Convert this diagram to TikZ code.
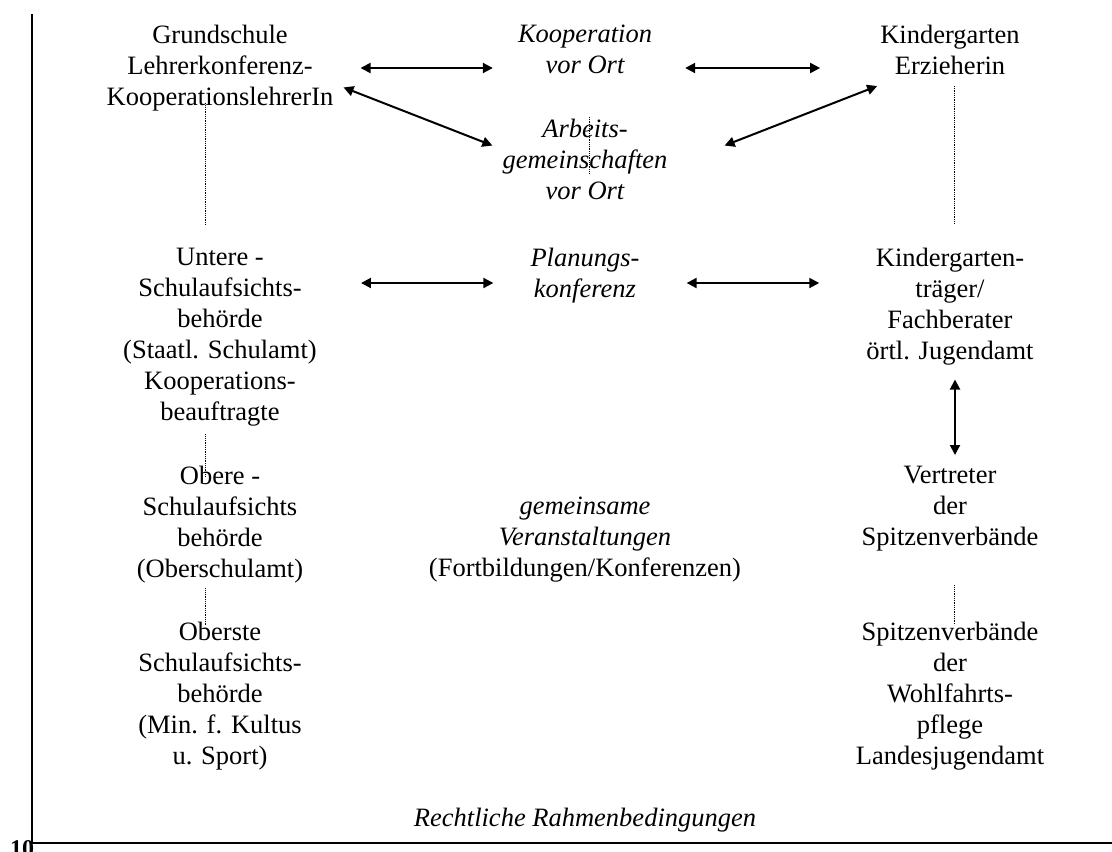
\documentclass[tikz,border=0pt]{standalone}
\usepackage{fontspec}
\setmainfont{Liberation Serif}
\usetikzlibrary{arrows.meta}

\tikzset{
  txt/.style={align=center, inner sep=0pt, anchor=north, font=\fontsize{26.5}{31}\selectfont, execute at begin node={\rule{0pt}{22pt}}},
  itxt/.style={txt, font=\fontsize{26.5}{31}\selectfont\itshape},
  link/.style={{Triangle[length=10pt,width=10pt]}-{Triangle[length=10pt,width=10pt]}, line width=2pt},
  dotline/.style={densely dotted, line width=0.8pt},
  frame/.style={line width=2pt}
}

\begin{document}
\begin{tikzpicture}[x=1pt,y=-1pt]
\useasboundingbox (0,0) rectangle (1112,852);

\draw[frame] (32,14) -- (32,843) -- (1112,843);
\node[anchor=base west, font=\fontsize{24}{28}\selectfont\bfseries, inner sep=0pt] (page) at (10,856) {10};

\node[txt] (gs) at (220,25) {Grundschule\\Lehrerkonferenz-\\KooperationslehrerIn};
\node[itxt] (koop) at (585,25) {Kooperation\\vor Ort};
\node[txt] (kg) at (950,25) {Kindergarten\\Erzieherin};
\node[itxt] (ag) at (585,119) {Arbeits-\\gemeinschaften\\vor Ort};

\node[txt] (ua) at (220,248) {Untere -\\Schulaufsichts-\\behörde\\(Staatl. Schulamt)\\Kooperations-\\beauftragte};
\node[itxt] (pk) at (585,248) {Planungs-\\konferenz};
\node[txt] (kt) at (950,248) {Kindergarten-\\träger/\\Fachberater\\örtl. Jugendamt};

\node[txt] (ob) at (220,466) {Obere -\\Schulaufsichts\\behörde\\(Oberschulamt)};
\node[txt] (gv) at (585,497) {\textit{gemeinsame}\\\textit{Veranstaltungen}\\(Fortbildungen/Konferenzen)};
\node[txt] (vt) at (950,466) {Vertreter\\der\\Spitzenverbände};

\node[txt] (os) at (220,622) {Oberste\\Schulaufsichts-\\behörde\\(Min. f. Kultus\\u. Sport)};
\node[txt] (sw) at (950,622) {Spitzenverbände\\der\\Wohlfahrts-\\pflege\\Landesjugendamt};

\node[itxt] (rr) at (585,804) {Rechtliche Rahmenbedingungen};

\draw[link] ([xshift=27pt,yshift=-43pt]gs.north east) -- ([xshift=-25pt,yshift=-43pt]koop.north west);
\draw[link] ([xshift=33pt,yshift=-43pt]koop.north east) -- ([xshift=-60pt,yshift=-43pt]kg.north west);
\draw[link] ([xshift=10pt,yshift=24pt]gs.south east) -- ([xshift=-10pt,yshift=14pt]ag.west);
\draw[link] ([xshift=57pt,yshift=14pt]ag.east) -- ([xshift=-3pt,yshift=-11pt]kg.south west);
\draw[link] ([xshift=44pt,yshift=-35pt]ua.north east) -- ([xshift=-37pt,yshift=-35pt]pk.north west);
\draw[link] ([xshift=47pt,yshift=-35pt]pk.north east) -- ([xshift=-47pt,yshift=-35pt]kt.north west);
\draw[link] ([xshift=5pt,yshift=-14pt]kt.south) -- ([xshift=5pt,yshift=11pt]vt.north);

\draw[dotline] ([xshift=-15pt,yshift=8pt]gs.south) -- ([xshift=-15pt,yshift=23pt]ua.north);
\draw[dotline] ([xshift=4pt,yshift=2pt]ag.north) -- ([xshift=4pt,yshift=-54pt]ag.north);
\draw[dotline] ([xshift=4pt,yshift=-11pt]kg.south) -- ([xshift=4pt,yshift=25pt]kt.north);
\draw[dotline] ([xshift=-15pt,yshift=-8pt]ua.south) -- ([xshift=-15pt,yshift=-11pt]ob.north);
\draw[dotline] ([xshift=-15pt,yshift=-5pt]ob.south) -- ([xshift=-15pt,yshift=-3pt]os.north);
\draw[dotline] ([xshift=4pt,yshift=-34pt]vt.south) -- ([xshift=4pt,yshift=-3pt]sw.north);

\end{tikzpicture}
\end{document}
